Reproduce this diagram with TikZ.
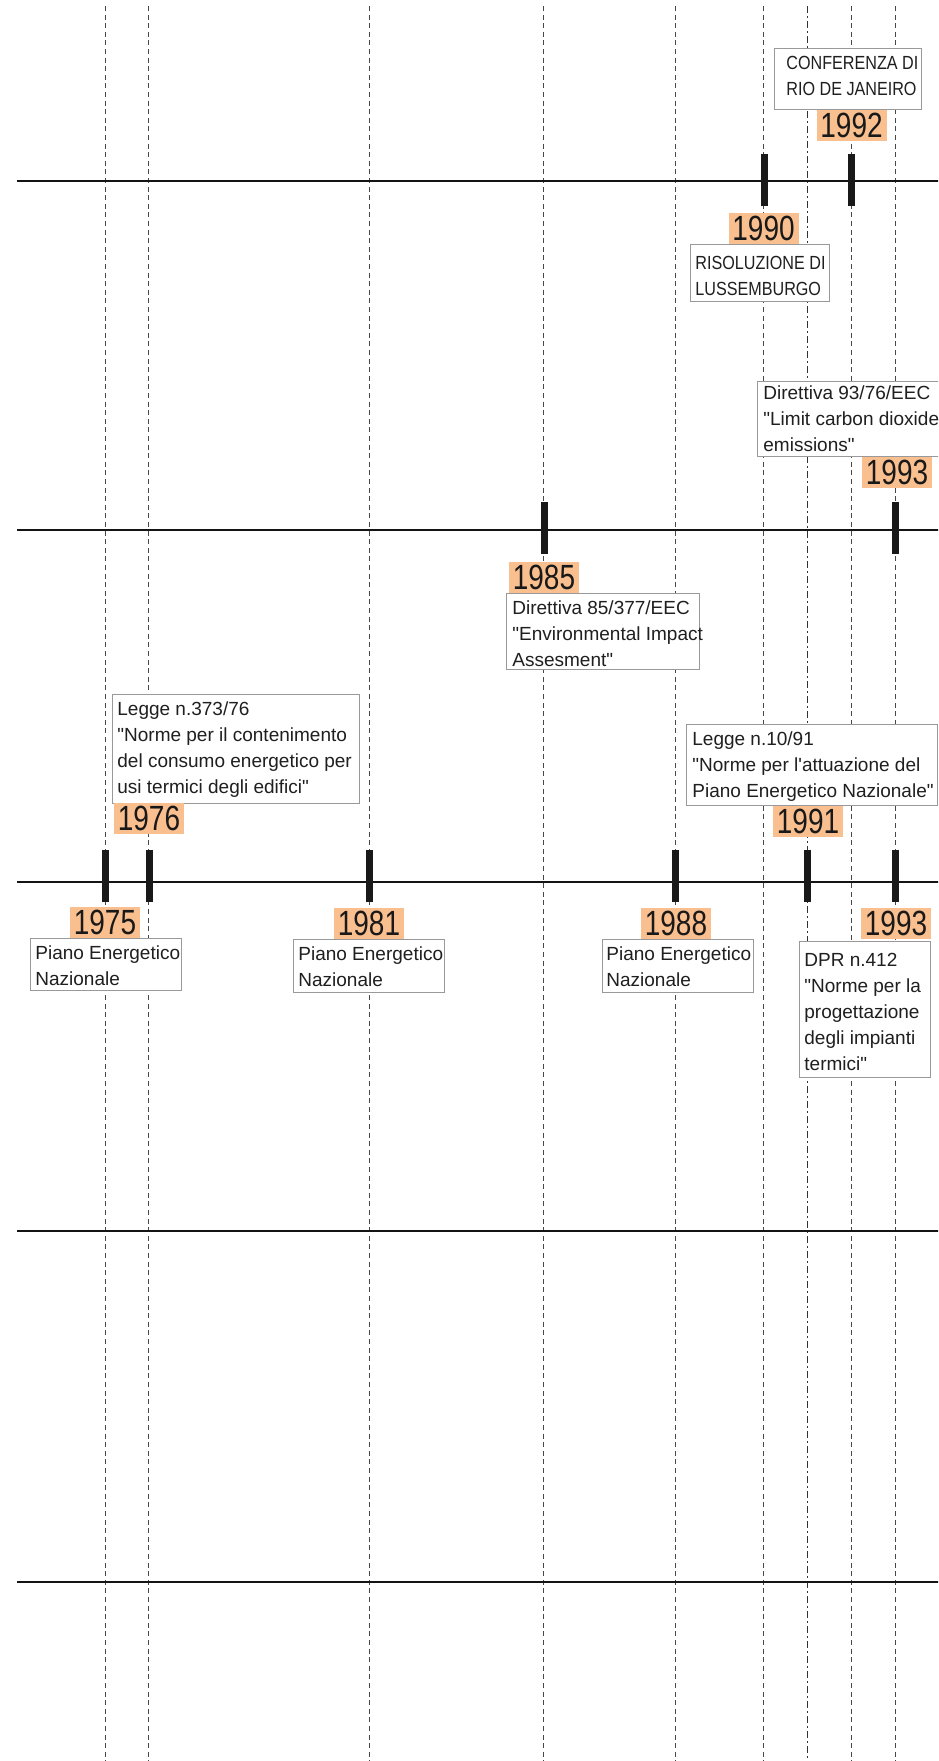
\documentclass[tikz,border=0pt]{standalone}
\usepackage{fontspec}
\setmainfont{Liberation Sans}
\newfontfamily\bodyfont{Liberation Sans}
\newfontfamily\capsfont[FakeStretch=0.85]{Liberation Sans}
\newfontfamily\yrfont[FakeStretch=0.8]{Liberation Sans}
\definecolor{orangebg}{RGB}{249,191,143}
\begin{document}
\begin{tikzpicture}[x=0.5pt,y=-0.5pt,
  vline/.style={draw=black!72, line width=0.6pt, dash pattern=on 2.5pt off 1.8pt},
  vlinealt/.style={draw=black!80, line width=0.6pt, dash pattern=on 3.5pt off 1.5pt on 1pt off 1.5pt},
  hline/.style={draw=black!92, line width=1.1pt},
  tickmark/.style={fill=black!90, inner sep=0pt, minimum width=3.5pt, minimum height=26pt},
  yearbox/.style={fill=orangebg, inner sep=0pt, minimum width=35pt, minimum height=15.5pt, text=black!90, font=\yrfont\fontsize{17.5pt}{18pt}\selectfont},
  framebox/.style={draw=black!40, line width=0.55pt, fill=white, inner sep=0pt, anchor=north west},
  bodytext/.style={font=\bodyfont\fontsize{9.5pt}{13pt}\selectfont, align=left, inner sep=0pt, anchor=north west, text=black!88},
  capstext/.style={bodytext, font=\capsfont\fontsize{9.5pt}{13pt}\selectfont}
]
\useasboundingbox (0,0) rectangle (938,1761);
\clip (0,0) rectangle (938,1761);

% vertical dashed guide lines
\foreach \yr/\xx in {1975/105.5,1976/148.5,1981/369.5,1985/543.5,1988/675.5,1990/763.5,1992/851.5,1993/895.5} {
  \coordinate (v\yr top) at (\xx,6);
  \coordinate (v\yr bot) at (\xx,1761);
  \draw[vline] (v\yr top) -- (v\yr bot);
}
\coordinate (v1991top) at (807.5,6);
\coordinate (v1991bot) at (807.5,1761);
\draw[vlinealt] (v1991top) -- (v1991bot);

% horizontal timelines
\foreach \k/\yy in {1/181,2/530,3/882,4/1231,5/1582} {
  \coordinate (h\k a) at (17,\yy);
  \coordinate (h\k b) at (950,\yy);
  \draw[hline] (h\k a) -- (h\k b);
}

% ticks
\node[tickmark] (tA1990) at (764,180) {};
\node[tickmark] (tA1992) at (851,180) {};
\node[tickmark] (tB1985) at (544,528) {};
\node[tickmark] (tB1993) at (895,528) {};
\node[tickmark] (tC1975) at (105,876) {};
\node[tickmark] (tC1976) at (149,876) {};
\node[tickmark] (tC1981) at (369,876) {};
\node[tickmark] (tC1988) at (675,876) {};
\node[tickmark] (tC1991) at (807,876) {};
\node[tickmark] (tC1993) at (895,876) {};

% ---- row 1
\node[framebox, minimum width=73.5pt, minimum height=30.5pt] (fConf) at (774,48) {};
\node[capstext] (tConf) at (786,56) {CONFERENZA DI\\RIO DE JANEIRO};
\node[yearbox] (y1992) at (851.5,125.5) {1992};

\node[yearbox] (y1990) at (763.5,228.5) {1990};
\node[framebox, minimum width=69.5pt, minimum height=28.5pt] (fRiso) at (690,244) {};
\node[capstext] (tRiso) at (695,256) {RISOLUZIONE DI\\LUSSEMBURGO};

% ---- row 2
\node[framebox, minimum width=110pt, minimum height=37.5pt] (fD93) at (757,381) {};
\node[bodytext] (tD93) at (763,385) {Direttiva 93/76/EEC\\"Limit carbon dioxide\\emissions"};
\node[yearbox] (y1993a) at (897,472) {1993};

\node[yearbox] (y1985) at (544,577) {1985};
\node[framebox, minimum width=96.5pt, minimum height=38pt] (fD85) at (506,593) {};
\node[bodytext] (tD85) at (512,600) {Direttiva 85/377/EEC\\"Environmental Impact\\Assesment"};

% ---- row 3
\node[framebox, minimum width=123.5pt, minimum height=54.5pt] (fL373) at (112,694) {};
\node[bodytext] (tL373) at (117,701.5) {Legge n.373/76\\"Norme per il contenimento\\del consumo energetico per\\usi termici degli edifici"};
\node[yearbox] (y1976) at (149,818.5) {1976};

\node[framebox, minimum width=125.5pt, minimum height=40.5pt] (fL1091) at (686,724) {};
\node[bodytext] (tL1091) at (692,731.5) {Legge n.10/91\\"Norme per l'attuazione del\\Piano Energetico Nazionale"};
\node[yearbox] (y1991) at (808,821) {1991};

\node[yearbox] (y1975) at (105,922) {1975};
\node[framebox, minimum width=75.5pt, minimum height=26pt] (fP75) at (30,938) {};
\node[bodytext] (tP75) at (35,945) {Piano Energetico\\Nazionale};

\node[yearbox] (y1981) at (369,923) {1981};
\node[framebox, minimum width=75.5pt, minimum height=26.5pt] (fP81) at (293,939) {};
\node[bodytext] (tP81) at (298,946) {Piano Energetico\\Nazionale};

\node[yearbox] (y1988) at (676,923.5) {1988};
\node[framebox, minimum width=75.5pt, minimum height=26.5pt] (fP88) at (602,939) {};
\node[bodytext] (tP88) at (606,946.5) {Piano Energetico\\Nazionale};

\node[yearbox] (y1993b) at (896,923.5) {1993};
\node[framebox, minimum width=65.5pt, minimum height=68pt] (fDPR) at (799,941) {};
\node[bodytext] (tDPR) at (804,953) {DPR n.412\\"Norme per la\\progettazione\\degli impianti\\termici"};
\end{tikzpicture}
\end{document}
